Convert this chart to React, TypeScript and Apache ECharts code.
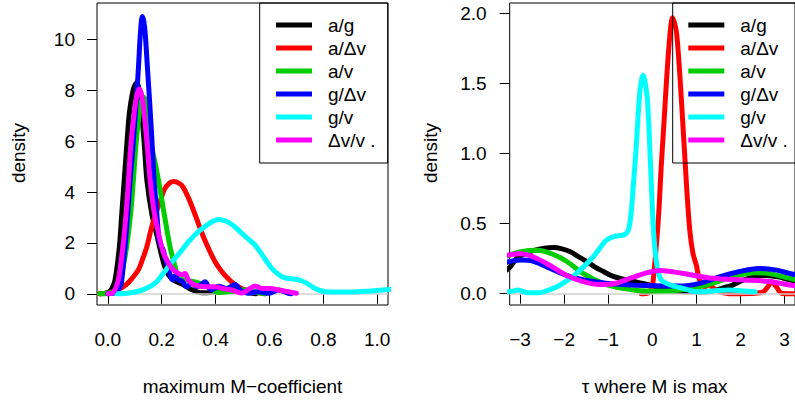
import React, { useEffect, useRef } from "react";
import * as echarts from "echarts";

// ---- legend / series names ----
const seriesNames = ["a/g", "a/Δv", "a/v", "g/Δv", "g/v", "Δv/v ."];
const seriesColors = ["#000000", "#FF0000", "#00CD00", "#0000FF", "#00FFFF", "#FF00FF"];

// ---- tick values ----
const leftXTicks = [0, 0.2, 0.4, 0.6, 0.8, 1.0];
const leftYTickMax = 10;
const leftYTickStep = 2;
const rightXTicks = [-3, -2, -1, 0, 1, 2, 3];
const rightYTickMax = 2.0;
const rightYTickStep = 0.5;

// ---- left panel: density of maximum M-coefficient ----
const maxM_ag: [number, number][] = [
  [-0.03, 0], [0.0, 0.05], [0.015, 0.2], [0.027, 0.54], [0.043, 1.85], [0.052, 3.16], [0.061, 4.47],
  [0.07, 5.78], [0.08, 7.09], [0.095, 8.05], [0.108, 8.3], [0.118, 7.95], [0.126, 7.09], [0.136, 5.8],
  [0.145, 4.47], [0.163, 3.16], [0.18, 2.4], [0.192, 1.85], [0.205, 1.3], [0.219, 0.85], [0.235, 0.62],
  [0.25, 0.5], [0.275, 0.38], [0.31, 0.17], [0.35, 0.04], [0.38, 0.05], [0.42, 0.14], [0.46, 0.23],
  [0.49, 0.16], [0.52, 0.06], [0.55, 0.0],
];
const maxM_adv: [number, number][] = [
  [-0.03, 0], [0.0, 0.03], [0.03, 0.12], [0.058, 0.28], [0.077, 0.45], [0.095, 0.67], [0.114, 0.95],
  [0.13, 1.38], [0.145, 1.85], [0.16, 2.5], [0.176, 3.1], [0.19, 3.5], [0.21, 4.1], [0.228, 4.34],
  [0.245, 4.41], [0.262, 4.36], [0.278, 4.22], [0.296, 3.85], [0.31, 3.5], [0.328, 3.0], [0.347, 2.45],
  [0.368, 1.92], [0.396, 1.3], [0.42, 0.92], [0.448, 0.58], [0.47, 0.38], [0.498, 0.2], [0.528, 0.11],
  [0.565, 0.03], [0.585, 0],
];
const maxM_av: [number, number][] = [
  [-0.03, 0], [0.0, 0.02], [0.03, 0.12], [0.046, 0.5], [0.058, 1.1], [0.07, 1.85], [0.085, 3.16],
  [0.095, 4.47], [0.104, 5.78], [0.117, 7.09], [0.132, 7.74], [0.142, 7.6], [0.151, 7.09], [0.163, 5.78],
  [0.176, 5.13], [0.188, 4.47], [0.209, 3.16], [0.231, 1.85], [0.25, 1.06], [0.262, 0.6], [0.281, 0.55],
  [0.324, 0.47], [0.35, 0.38], [0.374, 0.26], [0.41, 0.05], [0.448, 0.08], [0.47, 0.1], [0.498, 0.15],
  [0.52, 0.15], [0.545, 0.08], [0.565, 0.03], [0.58, 0],
];
const maxM_gdv: [number, number][] = [
  [0.0, 0], [0.03, 0.05], [0.045, 0.25], [0.052, 0.54], [0.064, 1.85], [0.074, 3.16], [0.083, 4.47],
  [0.093, 5.7], [0.106, 7.6], [0.114, 8.92], [0.121, 10.23], [0.128, 10.9], [0.134, 10.7], [0.139, 10.23],
  [0.147, 8.92], [0.155, 7.6], [0.166, 5.65], [0.172, 4.47], [0.182, 3.16], [0.19, 2.15], [0.197, 1.9],
  [0.205, 1.75], [0.213, 1.4], [0.225, 1.0], [0.235, 0.62], [0.242, 0.55], [0.25, 0.72], [0.262, 0.54],
  [0.275, 0.5], [0.293, 0.28], [0.312, 0.41], [0.33, 0.28], [0.345, 0.35], [0.361, 0.47], [0.375, 0.25],
  [0.386, 0.15], [0.411, 0.3], [0.442, 0.21], [0.473, 0.37], [0.491, 0.15], [0.522, 0.02], [0.559, 0.08],
  [0.596, 0.02], [0.634, 0.15], [0.671, 0.02], [0.68, 0],
];
const maxM_gv: [number, number][] = [
  [0.033, 0], [0.08, 0.03], [0.12, 0.12], [0.15, 0.25], [0.176, 0.42], [0.2, 0.72], [0.238, 1.25],
  [0.27, 1.65], [0.3, 2.05], [0.33, 2.38], [0.361, 2.65], [0.39, 2.85], [0.411, 2.92], [0.44, 2.85],
  [0.466, 2.68], [0.49, 2.45], [0.516, 2.2], [0.547, 1.91], [0.575, 1.5], [0.609, 1.0], [0.646, 0.67],
  [0.677, 0.6], [0.708, 0.55], [0.733, 0.45], [0.763, 0.25], [0.79, 0.12], [0.826, 0.07], [0.9, 0.07],
  [0.962, 0.1], [1.05, 0.18],
];
const maxM_dvv: [number, number][] = [
  [0.0, 0], [0.02, 0.05], [0.039, 0.54], [0.056, 1.85], [0.068, 3.16], [0.077, 4.47], [0.085, 5.78],
  [0.098, 7.09], [0.108, 7.8], [0.117, 8.05], [0.126, 7.8], [0.135, 7.09], [0.147, 5.78], [0.157, 4.47],
  [0.173, 3.16], [0.2, 1.85], [0.213, 1.45], [0.238, 1.0], [0.262, 0.8], [0.275, 0.75], [0.287, 0.8],
  [0.299, 0.54], [0.324, 0.34], [0.361, 0.28], [0.398, 0.28], [0.43, 0.2], [0.46, 0.15], [0.498, 0.03],
  [0.528, 0.21], [0.547, 0.31], [0.572, 0.21], [0.603, 0.21], [0.634, 0.15], [0.671, 0.08], [0.7, 0.02],
];

// ---- right panel: density of tau where M is max ----
const tau_ag: [number, number][] = [
  [-3.3, 0.17], [-3.23, 0.19], [-3.05, 0.26], [-2.85, 0.29], [-2.68, 0.31], [-2.45, 0.325], [-2.24, 0.33],
  [-2.05, 0.32], [-1.86, 0.3], [-1.68, 0.265], [-1.49, 0.23], [-1.3, 0.19], [-1.12, 0.16], [-0.9, 0.125],
  [-0.68, 0.105], [-0.4, 0.085], [-0.16, 0.07], [0.1, 0.045], [0.33, 0.026], [0.6, 0.015], [0.85, 0.014],
  [1.15, 0.012], [1.37, 0.02], [1.59, 0.04], [1.81, 0.06], [2.0, 0.09], [2.18, 0.11], [2.48, 0.13],
  [2.85, 0.12], [3.11, 0.1], [3.3, 0.09],
];
const tau_adv: [number, number][] = [
  [-0.25, 0], [-0.1, 0.005], [0.0, 0.06], [0.05, 0.2], [0.11, 0.42], [0.15, 0.6], [0.2, 0.9], [0.26, 1.2],
  [0.37, 1.74], [0.46, 1.97], [0.55, 1.86], [0.66, 1.38], [0.78, 0.75], [0.85, 0.45], [0.92, 0.29],
  [1.0, 0.2], [1.07, 0.1], [1.18, 0.05], [1.29, 0.062], [1.44, 0.026], [1.74, 0.0], [2.33, 0.003],
  [2.52, 0.014], [2.62, 0.05], [2.7, 0.086], [2.81, 0.05], [2.93, 0.003], [3.1, 0], [3.3, 0],
];
const tau_av: [number, number][] = [
  [-3.3, 0.27], [-2.98, 0.3], [-2.61, 0.31], [-2.24, 0.28], [-1.94, 0.23], [-1.57, 0.145], [-1.12, 0.074],
  [-0.68, 0.038], [-0.16, 0.02], [0.3, 0.02], [0.63, 0.026], [1.0, 0.045], [1.37, 0.074], [1.81, 0.12],
  [2.33, 0.15], [2.63, 0.145], [3.11, 0.11], [3.3, 0.095],
];
const tau_gdv: [number, number][] = [
  [-3.3, 0.225], [-2.98, 0.24], [-2.68, 0.23], [-2.31, 0.18], [-1.94, 0.13], [-1.57, 0.1], [-1.05, 0.074],
  [-0.46, 0.062], [0.0, 0.058], [0.63, 0.055], [1.07, 0.074], [1.52, 0.12], [1.96, 0.157], [2.41, 0.18],
  [2.78, 0.17], [3.11, 0.145], [3.3, 0.13],
];
const tau_gv: [number, number][] = [
  [-3.3, 0.012], [-3.15, 0.02], [-3.05, 0.026], [-2.83, 0.007], [-2.6, 0.006], [-2.46, 0.014],
  [-2.09, 0.062], [-1.72, 0.145], [-1.35, 0.26], [-1.05, 0.38], [-0.86, 0.41], [-0.64, 0.42],
  [-0.55, 0.45], [-0.49, 0.55], [-0.43, 0.78], [-0.37, 1.03], [-0.3, 1.38], [-0.25, 1.52], [-0.21, 1.56],
  [-0.17, 1.52], [-0.11, 1.38], [-0.04, 0.91], [0.03, 0.43], [0.11, 0.19], [0.2, 0.1], [0.41, 0.062],
  [0.7, 0.038], [1.0, 0.014], [1.37, 0.02], [1.74, 0.026], [2.04, 0.02], [2.33, 0.014],
];
const tau_dvv: [number, number][] = [
  [-3.3, 0.275], [-2.98, 0.285], [-2.68, 0.26], [-2.31, 0.2], [-1.94, 0.13], [-1.57, 0.086], [-1.2, 0.065],
  [-0.83, 0.075], [-0.46, 0.115], [-0.11, 0.15], [0.18, 0.165], [0.63, 0.148], [1.37, 0.11], [2.11, 0.098],
  [2.7, 0.086], [3.11, 0.062], [3.3, 0.055],
];

const leftData = [maxM_ag, maxM_adv, maxM_av, maxM_gdv, maxM_gv, maxM_dvv];
const rightData = [tau_ag, tau_adv, tau_av, tau_gdv, tau_gv, tau_dvv];

const FONT = "'Liberation Sans', Arial, Helvetica, sans-serif";
const FS = 19;

// plot-region geometry (pixels)
const PLOT_TOP = 3;
const PLOT_H = 302;
const PLOT_W = 291;
const LEFT_X0 = 97;
const RIGHT_X0 = 509.7;
const LEFT_YMIN = -0.44, LEFT_YMAX = 11.43;
const RIGHT_YMIN = -0.0807, RIGHT_YMAX = 2.076;

const labelStyle = { fontSize: FS, color: "#000", fontFamily: FONT };

export default function App() {
  const ref = useRef<HTMLDivElement>(null);
  useEffect(() => {
    document.body.style.margin = "0";
    if (!ref.current) return;
    const chart = echarts.init(ref.current, null, { renderer: "svg" });

    const makeSeries = (data: [number, number][][], axisIdx: number) =>
      data.map((d, i) => ({
        name: seriesNames[i],
        type: "line",
        xAxisIndex: axisIdx,
        yAxisIndex: axisIdx,
        data: d,
        showSymbol: false,
        symbol: "none",
        smooth: 0.3,
        clip: true,
        z: 3 + i,
        lineStyle: { width: 5, color: seriesColors[i], cap: "round", join: "round" },
        itemStyle: { color: seriesColors[i] },
        markLine:
          i === 0
            ? {
                silent: true,
                symbol: ["none", "none"],
                label: { show: false },
                lineStyle: { color: "#d0d0d0", width: 1.5, type: "solid" },
                data: [{ yAxis: 0 }],
              }
            : undefined,
      }));

    // tick-only grids: same pixel scale as the plot grids, spanning exactly 0..last tick
    const pxPerLeft = PLOT_H / (LEFT_YMAX - LEFT_YMIN);
    const pxPerRight = PLOT_H / (RIGHT_YMAX - RIGHT_YMIN);
    const leftZeroY = PLOT_TOP + (LEFT_YMAX - 0) * pxPerLeft;
    const rightZeroY = PLOT_TOP + (RIGHT_YMAX - 0) * pxPerRight;
    const leftTickH = leftYTickMax * pxPerLeft;
    const rightTickH = rightYTickMax * pxPerRight;

    const xAxisCommon = (ticks: number[], fmt: (v: number) => string) => ({
      axisLine: { show: false },
      splitLine: { show: false },
      axisTick: { show: true, length: 10, customValues: ticks, lineStyle: { color: "#000", width: 1 } },
      axisLabel: { customValues: ticks, formatter: fmt, margin: 25, ...labelStyle },
    });
    const hiddenY = { axisLine: { show: false }, splitLine: { show: false }, axisTick: { show: false }, axisLabel: { show: false } };
    const tickY = (step: number, fmt: (v: number) => string, margin: number) => ({
      interval: step,
      axisLine: { show: false },
      splitLine: { show: false },
      axisTick: { show: true, length: 10, lineStyle: { color: "#000", width: 1 } },
      axisLabel: { formatter: fmt, margin, showMinLabel: true, showMaxLabel: true, ...labelStyle },
    });

    const legendCommon = {
      orient: "vertical",
      icon: "rect",
      itemWidth: 36,
      itemHeight: 5,
      itemGap: 0,
      padding: 0,
      selectedMode: false,
      data: seriesNames,
      textStyle: { fontSize: FS, lineHeight: 23, color: "#000", fontFamily: FONT, padding: [0, 0, 0, 11] },
    };

    const fmtMinus = (v: number) => (v < 0 ? "\u2212" + Math.abs(v) : String(v));

    chart.setOption({
      animation: false,
      backgroundColor: "#ffffff",
      grid: [
        { left: LEFT_X0, top: PLOT_TOP, width: PLOT_W, height: PLOT_H, show: true, borderColor: "#000", borderWidth: 1 },
        { left: RIGHT_X0, top: PLOT_TOP, width: PLOT_W, height: PLOT_H, show: true, borderColor: "#000", borderWidth: 1 },
        { left: LEFT_X0, top: leftZeroY - leftTickH, width: PLOT_W, height: leftTickH, show: false },
        { left: RIGHT_X0, top: rightZeroY - rightTickH, width: PLOT_W, height: rightTickH, show: false },
      ],
      xAxis: [
        { type: "value", gridIndex: 0, min: -0.04, max: 1.04, ...xAxisCommon(leftXTicks, (v: number) => v.toFixed(1)) },
        { type: "value", gridIndex: 1, min: -3.236, max: 3.236, ...xAxisCommon(rightXTicks, fmtMinus) },
        { type: "value", gridIndex: 2, min: 0, max: 1, show: false },
        { type: "value", gridIndex: 3, min: 0, max: 1, show: false },
      ],
      yAxis: [
        { type: "value", gridIndex: 0, min: LEFT_YMIN, max: LEFT_YMAX, ...hiddenY },
        { type: "value", gridIndex: 1, min: RIGHT_YMIN, max: RIGHT_YMAX, ...hiddenY },
        { type: "value", gridIndex: 2, min: 0, max: leftYTickMax, ...tickY(leftYTickStep, (v: number) => String(v), 22) },
        { type: "value", gridIndex: 3, min: 0, max: rightYTickMax, ...tickY(rightYTickStep, (v: number) => v.toFixed(1), 23) },
      ],
      legend: [
        { ...legendCommon, left: 276, top: 13.5 },
        { ...legendCommon, left: 688.3, top: 13.5 },
      ],
      graphic: [
        { type: "rect", shape: { x: 259.7, y: 3, width: 128, height: 160 }, style: { fill: "none", stroke: "#000", lineWidth: 1 }, z: 20 },
        { type: "rect", shape: { x: 672.7, y: 3, width: 140, height: 160 }, style: { fill: "none", stroke: "#000", lineWidth: 1 }, z: 20 },
        { type: "text", x: 18.3, y: 153, rotation: Math.PI / 2, style: { text: "density", fontSize: FS, fontFamily: FONT, fill: "#000", align: "center", verticalAlign: "middle" } },
        { type: "text", x: 430, y: 153, rotation: Math.PI / 2, style: { text: "density", fontSize: FS, fontFamily: FONT, fill: "#000", align: "center", verticalAlign: "middle" } },
        { type: "text", x: 242.5, y: 386, style: { text: "maximum M\u2212coefficient", fontSize: FS, fontFamily: FONT, fill: "#000", align: "center", verticalAlign: "middle" } },
        { type: "text", x: 654.7, y: 386, style: { text: "τ where M is max", fontSize: FS, fontFamily: FONT, fill: "#000", align: "center", verticalAlign: "middle" } },
      ],
      series: [...makeSeries(leftData, 0), ...makeSeries(rightData, 1)],
    });
    return () => chart.dispose();
  }, []);
  return <div ref={ref} style={{ width: 795, height: 403, position: "absolute", left: 0, top: 0 }} />;
}
